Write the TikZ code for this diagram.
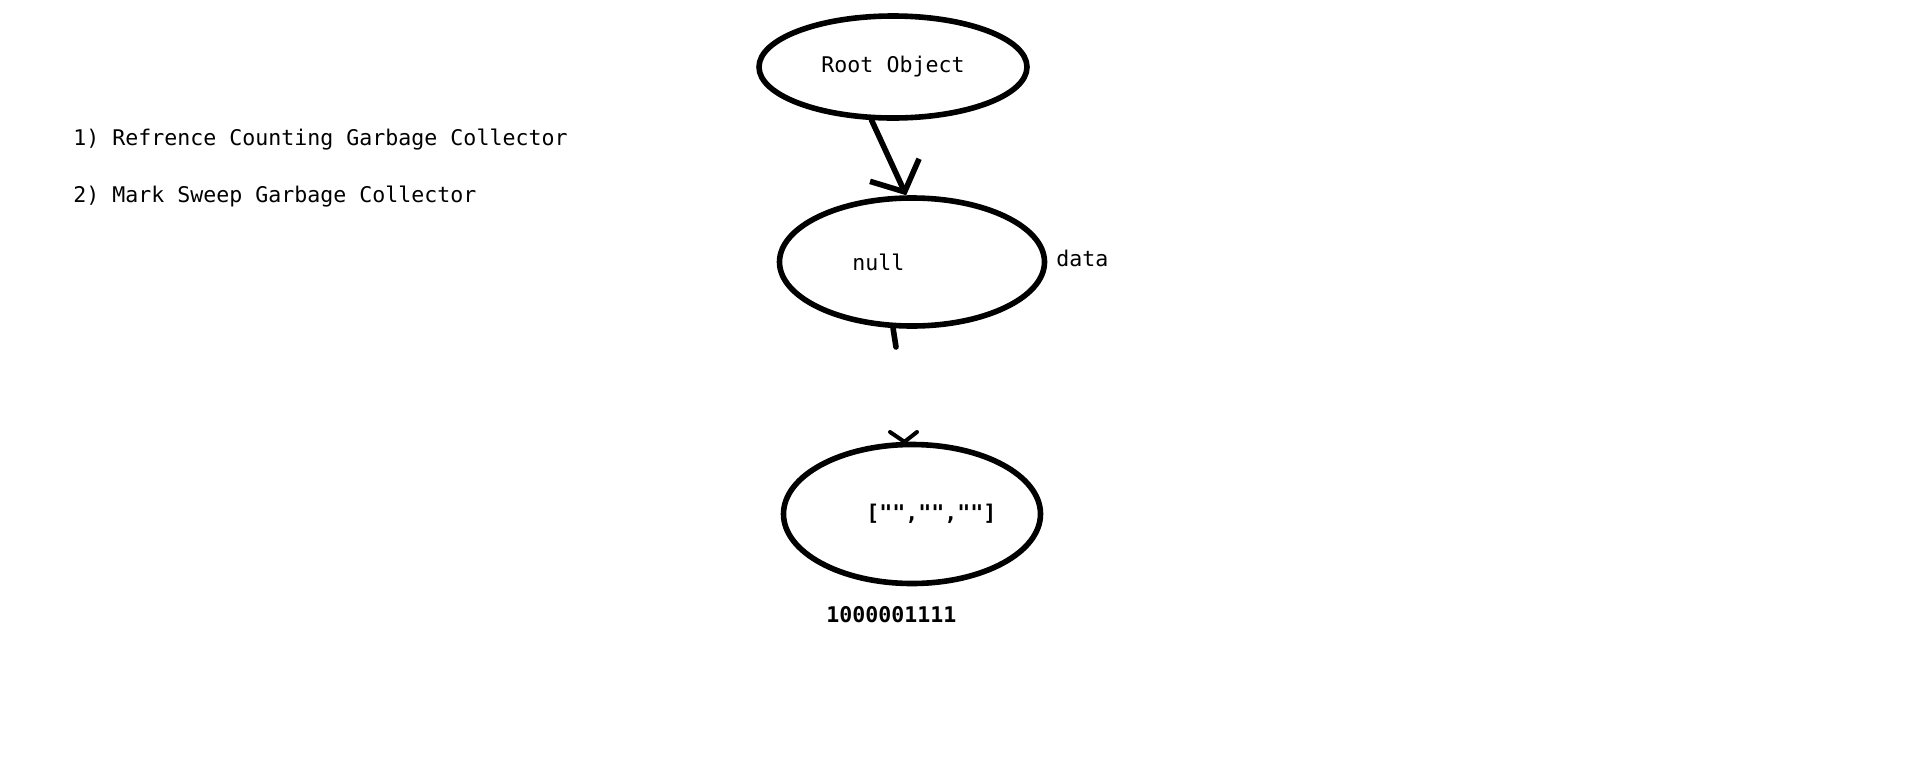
\documentclass[tikz,border=0pt]{standalone}
\usepackage{fontspec}
\setmonofont{DejaVu Sans Mono}
\usetikzlibrary{shapes.geometric,arrows.meta}
\begin{document}
\begin{tikzpicture}[x=0.5pt, y=-0.5pt, line join=round, line cap=round,
		font=\ttfamily\fontsize{10.8}{12}\selectfont,
		blob/.style={draw, ellipse, line width=2.8pt, inner sep=0pt},
		txt/.style={anchor=base west, inner sep=0pt},
		arr/.style={line width=2.8pt, -{Straight Barb[length=12pt,width=27pt]}}]
	\useasboundingbox (0,0) rectangle (1906,761);
	% list on the left
	\node[txt] (one) at (73,145) {1) Refrence Counting Garbage Collector};
	\node[txt] (two) at (73,202) {2) Mark Sweep Garbage Collector};
	% objects
	\node[blob, minimum width=134pt, minimum height=51pt] (root) at (893,67) {Root Object};
	\node[blob, minimum width=132.5pt, minimum height=64pt] (mid) at (912,262) {};
	\node[blob, minimum width=128.5pt, minimum height=69.5pt] (bot) at (912,514) {};
	\node[txt] (null) at (852,270) {null};
	\node[txt] (data) at (1056,266) {data};
	\node[txt, font=\ttfamily\bfseries\fontsize{10.8}{12}\selectfont] (arr) at (866,520) {["","",""]};
	\node[txt, font=\ttfamily\bfseries\fontsize{10.8}{12}\selectfont] (bits) at (826,622) {1000001111};
	% references
	\draw[arr] (root.248) -- (mid.95);
	\coordinate (stub) at (896,347);
	\draw[line width=2.8pt] (mid.254) -- (stub);
	\coordinate (hl) at (890,432);
	\coordinate (hr) at (917,432);
	\draw[line width=2pt] (hl) -- (bot.96) -- (hr);
\end{tikzpicture}
\end{document}
